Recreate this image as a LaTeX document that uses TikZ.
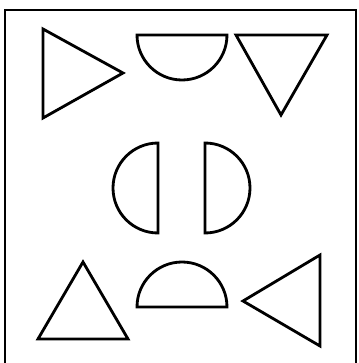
\documentclass[tikz,border=0pt]{standalone}
\usepackage{tikz}

\begin{document}
\begin{tikzpicture}[x=0.025cm,y=0.025cm,
    piece/.style={line width=2pt,line join=miter},
    frame/.style={line width=1.8pt}]
  \useasboundingbox (0,0) rectangle (358,363);
  \draw[frame] (5,353) -- (356,353) -- (356,-10) -- (5,-10) -- cycle;
  % top row
  \draw[piece] (43,334) -- (123,290) -- (43,245) -- cycle;
  \draw[piece] (227,328) arc (0:-180:45) -- cycle;
  \draw[piece] (236,328) -- (327,328) -- (281,248) -- cycle;
  % middle row
  \draw[piece] (158,220) arc (90:270:45) -- cycle;
  \draw[piece] (205,220) arc (90:-90:45) -- cycle;
  % bottom row
  \draw[piece] (83,101) -- (128,24) -- (38,24) -- cycle;
  \draw[piece] (137,56) arc (180:0:45) -- cycle;
  \draw[piece] (243,62) -- (320,108) -- (320,17) -- cycle;
\end{tikzpicture}
\end{document}
